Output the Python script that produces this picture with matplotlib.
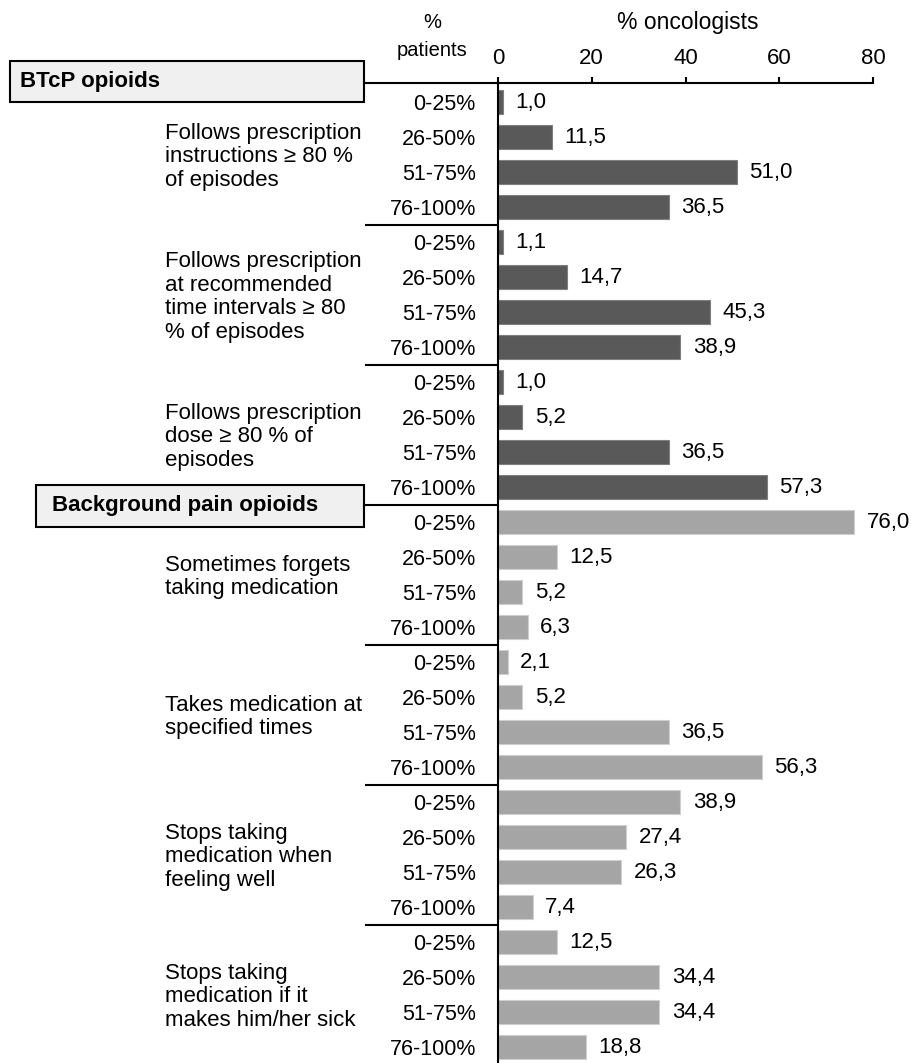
import numpy as np
import matplotlib
matplotlib.use("Agg")
import matplotlib.pyplot as plt
from matplotlib.patches import Rectangle

plt.rcParams['font.family'] = ['Liberation Sans', 'DejaVu Sans']

# Datos
rangos = ['0-25%', '26-50%', '51-75%', '76-100%']
grupos = [
    'Follows prescription\ninstructions \u2265 80 %\nof episodes',
    'Follows prescription\nat recommended\ntime intervals \u2265 80\n% of episodes',
    'Follows prescription\ndose \u2265 80 % of\nepisodes',
    'Sometimes forgets\ntaking medication',
    'Takes medication at\nspecified times',
    'Stops taking\nmedication when\nfeeling well',
    'Stops taking\nmedication if it\nmakes him/her sick',
]
valores = [
    [1.0, 11.5, 51.0, 36.5],
    [1.1, 14.7, 45.3, 38.9],
    [1.0, 5.2, 36.5, 57.3],
    [76.0, 12.5, 5.2, 6.3],
    [2.1, 5.2, 36.5, 56.3],
    [38.9, 27.4, 26.3, 7.4],
    [12.5, 34.4, 34.4, 18.8],
]
seccion = ['btcp', 'btcp', 'btcp', 'fondo', 'fondo', 'fondo', 'fondo']
secciones = {'btcp': 'BTcP opioids', 'fondo': 'Background pain opioids'}
xticks = [0, 20, 40, 60, 80]

W, H = 911, 1063
FS = 16
colores = {'btcp': ('#595959', '#808080'), 'fondo': ('#a5a5a5', '#cfcfcf')}

fig = plt.figure(figsize=(W / 100, H / 100), dpi=100)

def fx(x):
    return x / W

def fy(y):
    return 1 - y / H

# eje: x=0 en px 498, x=80 en px 873; fila 0 en y=102, 35 px por fila
ax = fig.add_axes([fx(498), 0, fx(873) - fx(498), fy(83)])
ax.set_xlim(0, 80)
ax.set_ylim((H - 102) / 35, -(102 - 83) / 35)
pxu = 375 / 80  # px por unidad

filas = []
etiquetas = []
for g, vals in enumerate(valores):
    ys = np.arange(4) + 4 * g
    fc, ec = colores[seccion[g]]
    ax.barh(ys, vals, height=0.7, color=fc, edgecolor=ec, linewidth=0.8, zorder=2)
    for y, v in zip(ys, vals):
        ax.annotate(f'{v:.1f}'.replace('.', ','), (v, y), xytext=(9, 0),
                    textcoords='offset points', va='center', ha='left',
                    fontsize=FS, annotation_clip=False)
    filas.extend(ys)
    etiquetas.extend(rangos)
    # etiqueta del grupo
    ax.text((165 - 498) / pxu, 4 * g + 1.5 + 0.07, grupos[g], ha='left', va='center',
            fontsize=FS, linespacing=1.18, clip_on=False)
    # separador
    if g > 0:
        ax.plot([(365 - 498) / pxu, 0], [4 * g - 0.5] * 2, color='black', lw=1.5,
                clip_on=False, solid_capstyle='butt')

ax.set_yticks(filas)
ax.set_yticklabels(etiquetas, fontsize=15.5)
ax.tick_params(axis='y', length=0, pad=16)

ax.xaxis.tick_top()
ax.set_xticks(xticks)
ax.tick_params(axis='x', direction='out', length=4, width=1.5, labelsize=FS, pad=6)
for s in ['right', 'bottom']:
    ax.spines[s].set_visible(False)
ax.spines['top'].set_linewidth(1.5)
ax.spines['left'].set_linewidth(1.5)

# linea superior que continúa hasta la caja
ax.plot([(365 - 498) / pxu, 0], [-(102 - 83) / 35] * 2, color='black', lw=1.5,
        clip_on=False, solid_capstyle='butt')

# cajas de sección
for (x0, y0, x1, y1, tx), clave in zip([(10, 61, 364, 102, 20), (36, 485, 364, 527, 52)],
                                       ['btcp', 'fondo']):
    fig.patches.append(Rectangle((fx(x0), fy(y1)), fx(x1) - fx(x0), fy(y0) - fy(y1),
                                 transform=fig.transFigure, facecolor='#f0f0f0',
                                 edgecolor='black', linewidth=1.5, zorder=3))
    fig.text(fx(tx), fy((y0 + y1) / 2), secciones[clave], fontsize=FS, fontweight='bold',
             ha='left', va='center', zorder=4)

fig.text(fx(688), fy(22), '% oncologists', fontsize=FS + 0.5, ha='center', va='center')
fig.text(fx(432), fy(22), '%', fontsize=FS - 1.5, ha='center', va='center')
fig.text(fx(432), fy(50), 'patients', fontsize=FS - 1.5, ha='center', va='center')

fig.savefig('out.png', dpi=100, facecolor='white')
